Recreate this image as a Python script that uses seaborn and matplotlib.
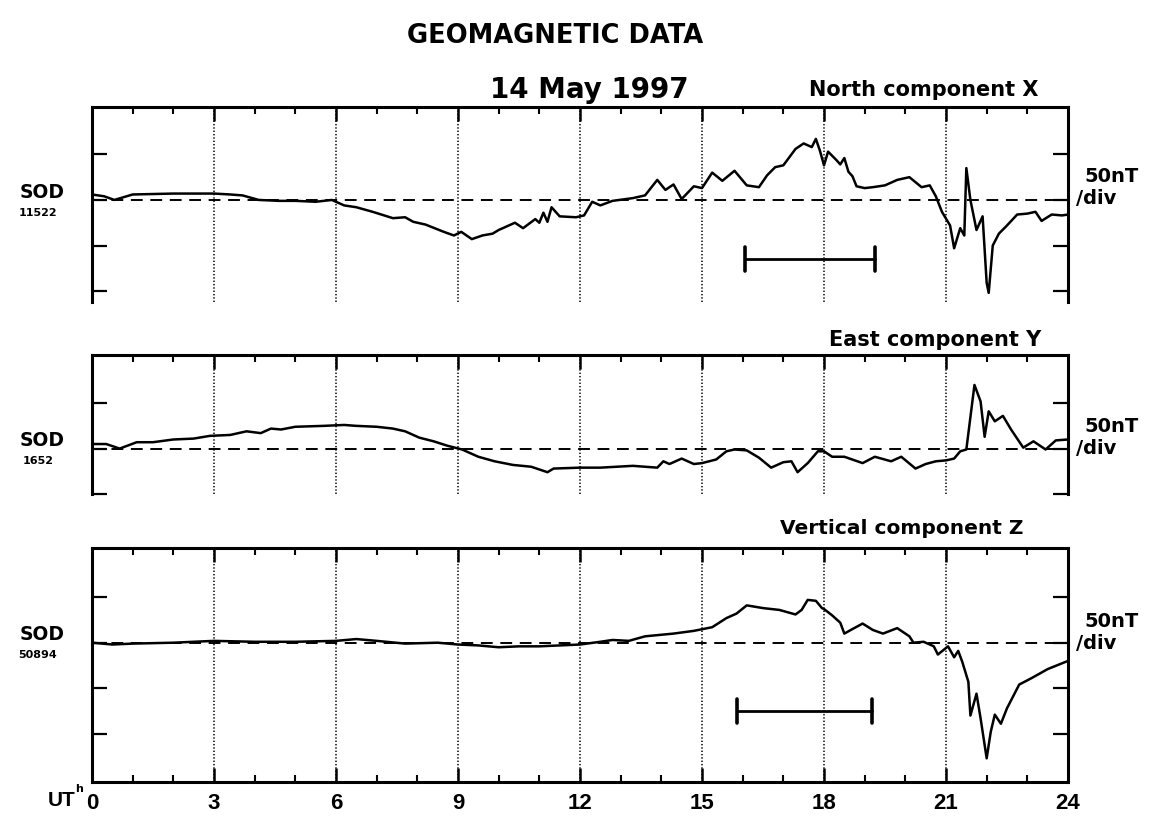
import numpy as np
import matplotlib
matplotlib.use("Agg")
import matplotlib.pyplot as plt
import seaborn as sns

sns.set_theme(style="white")
plt.rcParams["font.family"] = ["DejaVu Sans"]
plt.rcParams["font.weight"] = "bold"
plt.rcParams["text.color"] = "black"
plt.rcParams["lines.scale_dashes"] = False

# ---- magnetometer traces (deviation from station baseline, nT) ----
x_hours = [0, 0.3, 0.55, 1.0, 2.0, 3.0, 3.4, 3.7, 4.1, 4.6,
           5.0, 5.5, 5.9, 6.2, 6.5, 6.9, 7.4, 7.7, 7.9, 8.2,
           8.65, 8.9, 9.08, 9.34, 9.6, 9.85, 10.0, 10.4, 10.6, 10.9,
           11.0, 11.1, 11.2, 11.3, 11.5, 11.9, 12.1, 12.3, 12.5, 12.8,
           13.3, 13.6, 13.9, 14.1, 14.3, 14.5, 14.8, 15.0, 15.25, 15.5,
           15.8, 16.1, 16.4, 16.6, 16.8, 17.0, 17.3, 17.5, 17.7, 17.8,
           17.9, 18.0, 18.1, 18.3, 18.4, 18.5, 18.6, 18.7, 18.8, 19.0,
           19.2, 19.5, 19.8, 20.1, 20.4, 20.6, 20.75, 20.9, 21.1, 21.2,
           21.35, 21.45, 21.5, 21.6, 21.75, 21.9, 22.0, 22.05, 22.15, 22.3,
           22.5, 22.75, 23.0, 23.2, 23.35, 23.6, 23.85, 24.0]
x_values = [6, 4, 0, 6, 7, 7, 6, 5, 0, -1,
            -1, -2, 0, -6, -8, -13, -20, -19, -24, -27,
            -35, -39, -35, -43, -39, -37, -33, -25, -31, -21,
            -25, -14, -24, -8, -18, -19, -17, -2, -6, -1,
            2, 5, 22, 11, 17, 1, 15, 13, 30, 21,
            32, 16, 14, 27, 36, 38, 56, 62, 58, 67,
            54, 38, 53, 44, 39, 46, 31, 26, 15, 13,
            14, 16, 22, 25, 14, 16, 4, -13, -28, -53,
            -31, -39, 35, 0, -33, -18, -91, -102, -50, -37,
            -28, -16, -15, -13, -23, -16, -17, -16]

y_hours = [0, 0.35, 0.68, 1.1, 1.5, 2.0, 2.5, 2.9, 3.4, 3.8,
           4.15, 4.4, 4.65, 5.0, 5.7, 6.2, 6.5, 7.0, 7.4, 7.7,
           8.05, 8.4, 8.75, 9.1, 9.5, 9.9, 10.35, 10.8, 11.2, 11.35,
           12.0, 12.5, 13.3, 13.9, 14.05, 14.2, 14.5, 14.8, 15.0, 15.35,
           15.6, 15.8, 16.1, 16.4, 16.7, 17.0, 17.2, 17.35, 17.6, 17.85,
           18.0, 18.2, 18.5, 18.95, 19.25, 19.65, 19.9, 20.25, 20.5, 20.75,
           21.0, 21.2, 21.35, 21.5, 21.7, 21.85, 21.95, 22.05, 22.2, 22.4,
           22.6, 22.9, 23.15, 23.45, 23.7, 24.0]
y_values = [5, 5, 0, 7, 7, 10, 11, 14, 15, 19,
            17, 22, 21, 24, 25, 26, 25, 24, 22, 19,
            12, 8, 3, -1, -9, -14, -18, -20, -26, -22,
            -21, -21, -19, -21, -14, -17, -11, -17, -16, -12,
            -3, -1, -2, -10, -21, -15, -14, -26, -16, -3,
            -3, -9, -9, -16, -9, -14, -9, -22, -17, -14,
            -13, -11, -3, -1, 70, 52, 13, 41, 30, 36,
            21, 1, 8, -1, 9, 10]

z_hours = [0, 0.5, 1, 2, 3, 4, 5, 6, 6.5, 7,
           7.7, 8.5, 9, 9.5, 10, 10.5, 11, 11.5, 12, 12.5,
           12.8, 13.2, 13.6, 14.3, 14.8, 15.25, 15.6, 15.85, 16.1, 16.5,
           16.9, 17.3, 17.45, 17.6, 17.8, 17.95, 18.0, 18.2, 18.4, 18.5,
           18.7, 18.95, 19.2, 19.45, 19.8, 20.1, 20.2, 20.45, 20.7, 20.8,
           21.05, 21.2, 21.3, 21.4, 21.55, 21.6, 21.75, 21.85, 22.0, 22.1,
           22.2, 22.35, 22.5, 22.8, 23.1, 23.5, 24.0]
z_values = [0, -2, -1, 0, 2, 1, 1, 2, 4, 2,
            -1, 0, -2, -3, -5, -4, -4, -3, -2, 1,
            3, 2, 7, 10, 13, 17, 27, 32, 41, 38,
            36, 31, 36, 47, 46, 38, 37, 30, 22, 10,
            15, 21, 14, 10, 16, 7, 0, 1, -4, -13,
            -4, -16, -9, -21, -43, -80, -56, -83, -127, -98,
            -79, -89, -72, -46, -39, -29, -20]

# time-scale bars (start hour, end hour, level in nT)
x_bar = [16.06, 19.25, -65]
z_bar = [15.86, 19.18, -75]

# ---- labels ----
hour_ticks = [0, 3, 6, 9, 12, 15, 18, 21, 24]
hour_labels = ["0", "3", "6", "9", "12", "15", "18", "21", "24"]
station = "SOD"
baselines = ["11522", "1652", "50894"]
components = ["North component X", "East component Y", "Vertical component Z"]
scale_text = ["50nT", "/div"]

W, H = 1150, 821
fig = plt.figure(figsize=(W / 100, H / 100), dpi=100)
fig.patch.set_facecolor("white")


def fx(x):
    return x / W


def fy(y):
    return 1 - y / H


left, right = 92, 1068
panels = [
    # top px, bottom px, ylim, y ticks, show bottom
    (107, 302, (-112, 102), [50, 0, -50, -100], False),
    (355, 494, (-50, 103), [50, 0, -50], False),
    (548, 782, (-153, 104), [50, 0, -50, -100], True),
]
series = [(x_hours, x_values), (y_hours, y_values), (z_hours, z_values)]
bars = [x_bar, None, z_bar]

axes = []
for (top, bot, ylim, yt, show_bottom), (hh, vv), bar in zip(panels, series, bars):
    ax = fig.add_axes([fx(left), fy(bot), fx(right) - fx(left), (bot - top) / H])
    ax.set_facecolor("white")
    ax.set_xlim(0, 24)
    ax.set_ylim(*ylim)

    # hour gridlines
    for h in hour_ticks[1:-1]:
        ax.axvline(h, color="black", lw=1.1, ls=(0, (1.0, 1.4)), zorder=1)
    # baseline
    ax.axhline(0, color="black", lw=1.4, ls=(0, (8.5, 5.5)), zorder=2)

    sns.lineplot(x=hh, y=vv, ax=ax, color="black", lw=1.8,
                 estimator=None, sort=False, zorder=3)

    if bar is not None:
        x0, x1, lev = bar
        ax.plot([x0, x1], [lev, lev], color="black", lw=2.0)
        for xe in (x0, x1):
            ax.plot([xe, xe], [lev - 13, lev + 13], color="black", lw=2.6)

    for side in ("left", "right", "top"):
        ax.spines[side].set_visible(True)
        ax.spines[side].set_color("black")
        ax.spines[side].set_linewidth(2.2)
    ax.spines["bottom"].set_visible(show_bottom)
    ax.spines["bottom"].set_color("black")
    ax.spines["bottom"].set_linewidth(2.2)

    ax.set_xticks(hour_ticks)
    ax.set_xticks(range(25), minor=True)
    ax.set_yticks(yt)
    ax.tick_params(axis="x", which="major", direction="in", length=10, width=1.8,
                   top=True, bottom=show_bottom, labelbottom=show_bottom,
                   colors="black", pad=8)
    ax.tick_params(axis="x", which="minor", direction="in", length=5, width=1.5,
                   top=True, bottom=show_bottom, colors="black")
    ax.tick_params(axis="y", which="major", direction="in", length=11, width=1.6,
                   left=True, right=True, labelleft=False, colors="black")
    if show_bottom:
        ax.set_xticklabels(hour_labels, fontweight="bold", fontsize=16,
                           family="Liberation Sans")
    ax.set_xlabel("")
    ax.set_ylabel("")
    ax.grid(False)
    axes.append(ax)

# ---- figure text ----
fig.text(fx(555), fy(36), "GEOMAGNETIC DATA", ha="center", va="center",
         fontsize=18.5, fontweight="bold")
fig.text(fx(589), fy(90), "14 May 1997", ha="center", va="center",
         fontsize=20, fontweight="bold")
comp_pos = [(924, 90), (935, 340), (902, 528)]
comp_size = [15, 15, 14.5]
for txt, (cx, cy), fs in zip(components, comp_pos, comp_size):
    fig.text(fx(cx), fy(cy), txt, ha="center", va="center",
             fontsize=fs, fontweight="bold")

sod_y = [192, 440, 634]
for base, sy in zip(baselines, sod_y):
    fig.text(fx(42), fy(sy), station, ha="center", va="center",
             fontsize=13.5, fontweight="bold")
    fig.text(fx(38), fy(sy + 21), base, ha="center", va="center",
             fontsize=8, fontweight="bold")

scale_y = [176, 426, 621]
for sy in scale_y:
    fig.text(fx(1084), fy(sy), scale_text[0], ha="left", va="center",
             fontsize=14, fontweight="bold")
    fig.text(fx(1076), fy(sy + 22), scale_text[1], ha="left", va="center",
             fontsize=14, fontweight="bold")

fig.text(fx(62), fy(800), "UT", ha="center", va="center",
         fontsize=15, fontweight="bold", family="Liberation Sans")
fig.text(fx(79), fy(789), "h", ha="center", va="center",
         fontsize=8, fontweight="bold")

fig.savefig("out.png", dpi=100, facecolor="white")
